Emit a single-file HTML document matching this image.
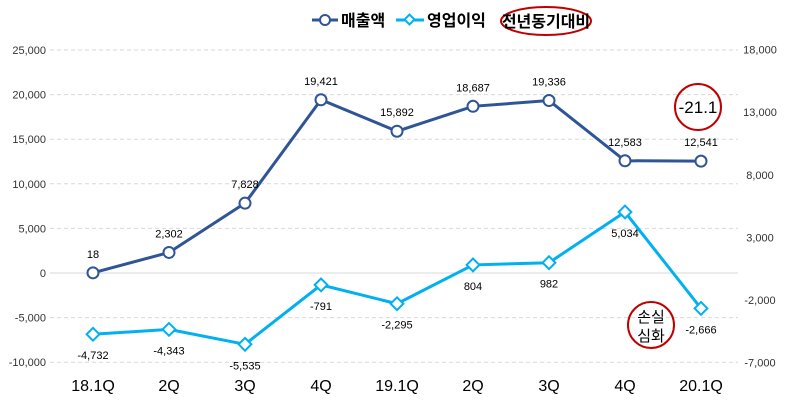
<!DOCTYPE html>
<html><head><meta charset="utf-8">
<style>
body{margin:0;background:#fff;}
svg{display:block;font-family:"Liberation Sans","Noto Sans CJK KR",sans-serif;}
</style></head>
<body>
<svg id="chart" width="790" height="406" viewBox="0 0 790 406">
  <g id="grid"></g>
  <g id="laxis"></g>
  <g id="raxis"></g>
  <g id="xaxis"></g>
  <g id="series"></g>
  <g>
    <g>
      <line x1="312" y1="20" x2="338" y2="20" stroke="#2F5597" stroke-width="3"/>
      <circle cx="325" cy="20" r="5" fill="#fff" stroke="#2F5597" stroke-width="2"/>
      <text x="341" y="26" font-size="16" font-weight="bold" fill="#000">매출액</text>
    </g>
    <g>
      <line x1="396" y1="20" x2="424" y2="20" stroke="#00B0F0" stroke-width="3"/>
      <rect x="406" y="16" width="7" height="7" fill="#fff" stroke="#00B0F0" stroke-width="2" transform="rotate(45 409.5 19.5)"/>
      <text x="427" y="26" font-size="16" font-weight="bold" fill="#000">영업이익</text>
    </g>
    <g>
      <ellipse cx="546" cy="21" rx="45" ry="14" fill="none" stroke="#C00000" stroke-width="2"/>
      <text x="546" y="27" font-size="16" font-weight="bold" fill="#000" text-anchor="middle">전년동기대비</text>
    </g>
  </g>
  <g>
    <circle cx="698" cy="107" r="23" fill="none" stroke="#C00000" stroke-width="2"/>
    <text x="698" y="113" font-size="17" text-anchor="middle" fill="#000">-21.1</text>
  </g>
  <g>
    <circle cx="651" cy="325" r="23" fill="none" stroke="#C00000" stroke-width="2"/>
    <text x="651" y="322" font-size="15" text-anchor="middle" fill="#000">손실</text>
    <text x="651" y="341" font-size="15" text-anchor="middle" fill="#000">심화</text>
  </g>
</svg>
<script>
const categories=["18.1Q","2Q","3Q","4Q","19.1Q","2Q","3Q","4Q","20.1Q"];
const sales=[18,2302,7828,19421,15892,18687,19336,12583,12541];
const profit=[-4732,-4343,-5535,-791,-2295,804,982,5034,-2666];
const leftTicks=[25000,20000,15000,10000,5000,0,-5000,-10000];
const rightTicks=[18000,13000,8000,3000,-2000,-7000];
const NS="http://www.w3.org/2000/svg";
const yL=v=>273-v*44.6/5000;
const yR=v=>275-v*62.6/5000;
const xC=i=>93+i*76;
const fmt=v=>v.toLocaleString("en-US");
function mk(tag,attrs,parent,txt){const e=document.createElementNS(NS,tag);for(const k in attrs)e.setAttribute(k,attrs[k]);if(txt!==undefined)e.textContent=txt;parent.appendChild(e);return e;}
const grid=document.getElementById("grid"),la=document.getElementById("laxis"),ra=document.getElementById("raxis"),xa=document.getElementById("xaxis"),sg=document.getElementById("series");
leftTicks.forEach(v=>{
  const l=mk("line",{x1:50,x2:738,y1:yL(v),y2:yL(v),stroke:"#d9d9d9","stroke-width":1,"stroke-dasharray":v===0?"":"4,3"},grid);
  
  
  const t=mk("text",{x:46,y:yL(v)+4,"font-size":11,"text-anchor":"end",fill:"#333"},la,fmt(v));
  
  
});
rightTicks.forEach(v=>{
  const t=mk("text",{x:760,y:yR(v)+4,"font-size":11,"text-anchor":"middle",fill:"#333"},ra,fmt(v));
  
  
});
categories.forEach((c,i)=>{
  const t=mk("text",{x:xC(i),y:391,"font-size":16,"text-anchor":"middle",fill:"#000"},xa,c);
  
  
});
const sp=sales.map((v,i)=>xC(i)+","+yL(v)).join(" ");
const sl=mk("polyline",{points:sp,fill:"none",stroke:"#2F5597","stroke-width":3},sg);


const pp=profit.map((v,i)=>xC(i)+","+yR(v)).join(" ");
const pl=mk("polyline",{points:pp,fill:"none",stroke:"#00B0F0","stroke-width":3},sg);


sales.forEach((v,i)=>{
  const c=mk("circle",{cx:xC(i),cy:yL(v),r:5.5,fill:"#fff",stroke:"#2F5597","stroke-width":2},sg);
  
  
  const t=mk("text",{x:xC(i),y:yL(v)-15,"font-size":11,"text-anchor":"middle",fill:"#000"},sg,fmt(v));
  
  
});
profit.forEach((v,i)=>{
  const x=xC(i),y=yR(v);
  const r=mk("rect",{x:x-4.5,y:y-4.5,width:9,height:9,fill:"#fff",stroke:"#00B0F0","stroke-width":2,transform:`rotate(45 ${x} ${y})`},sg);
  
  
  const t=mk("text",{x:x,y:y+25,"font-size":11,"text-anchor":"middle",fill:"#000"},sg,fmt(v));
  
  
});
</script>
</body></html>
